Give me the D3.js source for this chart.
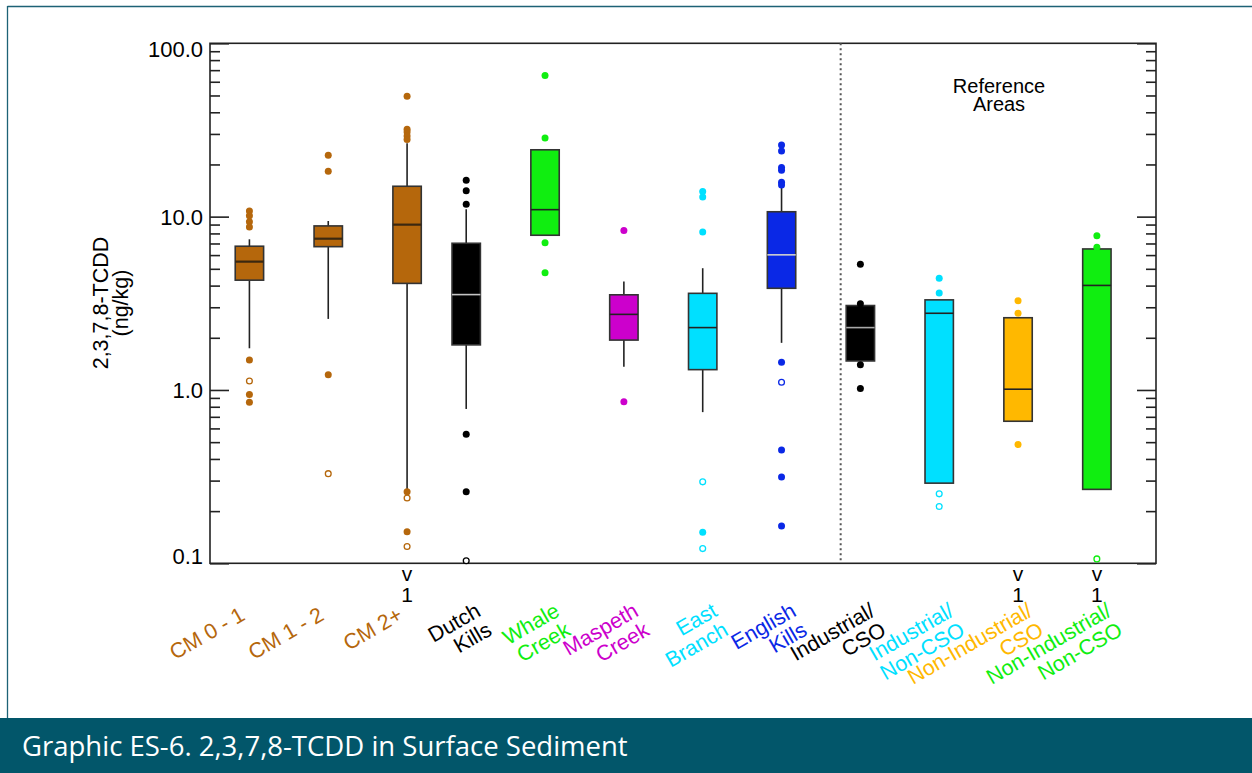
<!DOCTYPE html>
<html>
<head>
<meta charset="utf-8">
<style>
  body { margin: 0; background: #fff; }
  svg text { font-family: "Liberation Sans", Arial, sans-serif; }
</style>
</head>
<body>
<svg width="1252" height="773"></svg>
<script src="https://cdn.jsdelivr.net/npm/d3@7"></script>
<script>
// ---- data (ng/kg) ----
let groups = [['CM 0 - 1'], ['CM 1 - 2'], ['CM 2+'], ['Dutch', 'Kills'], ['Whale', 'Creek'],
    ['Maspeth', 'Creek'], ['East', 'Branch'], ['English', 'Kills'], ['Industrial/', 'CSO'],
    ['Industrial/', 'Non-CSO'], ['Non-Industrial/', 'CSO'], ['Non-Industrial/', 'Non-CSO']];
// slot on the x axis (Dutch Kills sits closer to CM 2+)
let slots = [1, 2, 3, 3.75, 4.75, 5.75, 6.75, 7.75, 8.75, 9.75, 10.75, 11.75];

let q1 =      [4.30, 6.71, 4.12, 1.82, 7.81, 1.94, 1.31, 3.86, 1.47, 0.29, 0.66, 0.267];
let medians = [5.50, 7.46, 8.99, 3.55, 10.97, 2.73, 2.29, 6.02, 2.29, 2.77, 1.01, 4.01];
let q3 =      [6.75, 8.84, 14.97, 7.02, 24.3, 3.54, 3.61, 10.67, 3.07, 3.31, 2.61, 6.51];
let whiskLo = [1.74, 2.57, 0.259, 0.777, null, 1.36, 0.745, 1.87, null, null, null, null];
let whiskHi = [7.40, 9.44, 26.5, 11.03, null, 4.23, 5.04, 14.8, null, null, null, null];

// detected outliers (filled) and non-detects (open)
let outFilled = [
    [10.78, 10.13, 9.35, 8.72, 1.49, 0.94, 0.849],
    [22.6, 18.3, 1.225],
    [49.5, 31.9, 30.8, 29.2, 27.9, 0.259, 0.152],
    [16.2, 14.1, 11.8, 0.555, 0.259],
    [65.1, 28.4, 7.08, 4.75],
    [8.33, 0.854],
    [13.97, 12.99, 8.15, 0.151],
    [25.9, 23.9, 19.2, 18.5, 15.8, 15.2, 1.445, 0.45, 0.315, 0.164],
    [5.32, 3.14, 1.40, 1.02],
    [4.41, 3.62],
    [3.27, 2.77, 0.484],
    [7.75, 6.66]
];
let outOpen = [
    [1.127], [0.329], [0.238, 0.125], [0.1035], [], [], [0.295, 0.1216], [1.107],
    [], [0.2515, 0.2125], [], [0.106]
];
// number of values below the plotted range
let belowRange = [0, 0, 1, 0, 0, 0, 0, 0, 0, 0, 1, 1];

let yTicks = [0.1, 1, 10, 100];
let yTickLabels = ['0.1', '1.0', '10.0', '100.0'];
let refDivider = 8.5;
let refLabel = ['Reference', 'Areas'];
let yTitle = ['2,3,7,8-TCDD', '(ng/kg)'];
let caption = 'Graphic ES-6. 2,3,7,8-TCDD in Surface Sediment';

// ---- colours ----
let brown = '#b5670c', green = '#10ee10', cyan = '#00e0ff';
let boxColors = [brown, brown, brown, '#000', green, '#cc00cc', cyan, '#0a28e6', '#000', cyan, '#ffb800', green];
let labelColors = [brown, brown, brown, '#000', green, '#cc00cc', cyan, '#0a28e6', '#000', cyan, '#ffb800', green];
let medianColors = ['#3b2810', '#3b2810', '#3b2810', '#c4c4c4', '#222', '#222', '#222', '#d0d0d0', '#a8a8a8', '#222', '#222', '#222'];

let svg = d3.select('svg');

// outer frame and caption banner
svg.append('line').attr('x1', 7.5).attr('x2', 1252).attr('y1', 6.5).attr('y2', 6.5)
    .attr('stroke', '#1d6276').attr('stroke-width', 1.3);
svg.append('line').attr('x1', 7.5).attr('x2', 7.5).attr('y1', 6).attr('y2', 719)
    .attr('stroke', '#1d6276').attr('stroke-width', 1.3);
svg.append('rect').attr('x', 0).attr('y', 718).attr('width', 1252).attr('height', 55).attr('fill', '#02566a');
svg.append('text').attr('x', 22).attr('y', 756).text(caption)
    .style('font-family', '"Open Sans", sans-serif').style('font-size', '27.5px').attr('fill', '#fff');

// plot area
let plot = {l: 210, r: 1156, t: 43.3, b: 563.3};

let x = d3.scaleLinear().domain([0.5, 12.5]).range([plot.l, plot.r]);
let y = d3.scaleLog().domain([0.1, 100]).range([plot.b, plot.t]);
let boxW = x(0.36) - x(0);

let minorTicks = y.ticks().filter(t => yTicks.indexOf(t) < 0);

// inward ticks on both sides
function tickAxis(axis, values, size) {
    return axis(y).tickValues(values).tickSize(size).tickFormat('');
}
[[d3.axisRight, plot.l], [d3.axisLeft, plot.r]].forEach(function(a) {
    let gMaj = svg.append('g').attr('transform', 'translate(' + a[1] + ',0)').call(tickAxis(a[0], yTicks, 19));
    let gMin = svg.append('g').attr('transform', 'translate(' + a[1] + ',0)').call(tickAxis(a[0], minorTicks, 10));
    [gMaj, gMin].forEach(g => {
        g.select('.domain').remove();
        g.selectAll('line').attr('stroke', '#222').attr('stroke-width', 1.6);
    });
});

svg.append('rect')
    .attr('x', plot.l).attr('y', plot.t)
    .attr('width', plot.r - plot.l).attr('height', plot.b - plot.t)
    .attr('fill', 'none').attr('stroke', '#222').attr('stroke-width', 1.6);

// tick labels (end ones nudged inside like the original)
svg.selectAll('.ylab').data(yTicks).enter().append('text')
    .attr('class', 'ylab')
    .attr('x', 203)
    .attr('y', (d, i) => y(d) + 8 + (i === 0 ? -7 : 0) + (i === yTicks.length - 1 ? 6 : 0))
    .attr('text-anchor', 'end')
    .style('font-size', '22px')
    .text((d, i) => yTickLabels[i]);

// y title
yTitle.forEach(function(t, i) {
    svg.append('text')
        .attr('transform', 'translate(' + [108 + i * 20, 303] + ') rotate(-90)')
        .attr('text-anchor', 'middle')
        .style('font-size', '21.5px')
        .text(t);
});

// divider before reference areas
svg.append('line')
    .attr('x1', x(refDivider)).attr('x2', x(refDivider))
    .attr('y1', plot.t).attr('y2', plot.b)
    .attr('stroke', '#555').attr('stroke-width', 2).attr('stroke-dasharray', '2,3');

refLabel.forEach(function(t, i) {
    svg.append('text').attr('x', 999).attr('y', 93 + i * 18)
        .attr('text-anchor', 'middle').style('font-size', '20px').text(t);
});

// boxes
groups.forEach(function(g, i) {
    let cx = x(slots[i]);
    let bg = svg.append('g');

    if (whiskLo[i] !== null) {
        bg.append('line').attr('x1', cx).attr('x2', cx)
            .attr('y1', y(q1[i])).attr('y2', y(whiskLo[i]))
            .attr('stroke', '#222').attr('stroke-width', 1.6);
        bg.append('line').attr('x1', cx).attr('x2', cx)
            .attr('y1', y(q3[i])).attr('y2', y(whiskHi[i]))
            .attr('stroke', '#222').attr('stroke-width', 1.6);
    }

    bg.append('rect')
        .attr('x', cx - boxW / 2).attr('y', y(q3[i]))
        .attr('width', boxW).attr('height', y(q1[i]) - y(q3[i]))
        .attr('fill', boxColors[i]).attr('stroke', '#333').attr('stroke-width', 1.6);

    bg.append('line')
        .attr('x1', cx - boxW / 2).attr('x2', cx + boxW / 2)
        .attr('y1', y(medians[i])).attr('y2', y(medians[i]))
        .attr('stroke', medianColors[i]).attr('stroke-width', i < 3 ? 2.2 : 1.6);

    bg.selectAll('.filled').data(outFilled[i]).enter().append('circle')
        .attr('cx', cx).attr('cy', d => y(d)).attr('r', 3.5)
        .attr('fill', boxColors[i]);

    bg.selectAll('.open').data(outOpen[i]).enter().append('circle')
        .attr('cx', cx).attr('cy', d => y(d)).attr('r', 2.9)
        .attr('fill', '#fff').attr('stroke', boxColors[i]).attr('stroke-width', 1.3);

    // count of values below the axis
    if (belowRange[i] > 0) {
        bg.append('text').attr('x', cx).attr('y', 581).attr('text-anchor', 'middle')
            .style('font-size', '21px').text('v');
        bg.append('text').attr('x', cx).attr('y', 602).attr('text-anchor', 'middle')
            .style('font-size', '21px').text(belowRange[i]);
    }

    // rotated category label
    let ox = g.length === 1 ? cx - 3 : cx + 16;
    let oy = g.length === 1 ? 619 : 615;
    let lab = svg.append('g').attr('transform', 'translate(' + [ox, oy] + ') rotate(-30)');
    g.forEach(function(line, k) {
        lab.append('text').attr('x', 0).attr('y', k * 22)
            .attr('text-anchor', 'end')
            .style('font-size', '21.5px')
            .attr('fill', labelColors[i])
            .text(line);
    });
});
</script>
</body>
</html>
